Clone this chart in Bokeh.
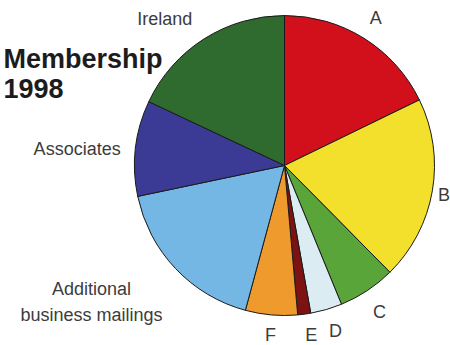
import math
from bokeh.plotting import figure
from bokeh.models import Range1d, ColumnDataSource
from bokeh.core.properties import value
from bokeh.embed import file_html
from bokeh.resources import INLINE

# ---- data ----
categories = ["A", "B", "C", "D", "E", "F",
              "Additional\nbusiness mailings", "Associates", "Ireland"]
shares = [17.8, 19.8, 6.2, 3.4, 1.4, 5.6, 17.5, 10.3, 18.0]
colors = ["#d2101c", "#f3e02c", "#5aa53a", "#dcecf3", "#7c1212",
          "#ee9a2c", "#74b6e4", "#3b3a94", "#2f6a2e"]
title_lines = ["Membership", "1998"]

# ---- style ----
W, H = 450, 345
cx, cy, R = 284, 180, 150
label_r = 172
label_align = ["center"] * 6 + ["center", "right", "right"]
label_dx = [0, -10, 0, 3, 4, 1, -68, 7, 0]
label_dy = [-2, 0, 3, 0, -1, -2, 18, 3, -1]

p = figure(width=W, height=H, output_backend="svg", toolbar_location=None,
           x_range=Range1d(0, W), y_range=Range1d(0, H),
           min_border=0, border_fill_color="white", outline_line_color=None)
p.axis.visible = False
p.grid.visible = False

total = sum(shares)
starts, ends, mids = [], [], []
a = math.pi / 2
for s in shares:
    e = a - s / total * 2 * math.pi
    starts.append(a)
    ends.append(e)
    mids.append((a + e) / 2)
    a = e

src = ColumnDataSource(dict(start=starts, end=ends, color=colors))
p.wedge(x=cx, y=cy, radius=R, start_angle="start", end_angle="end",
        direction="clock", fill_color="color", line_color="#1b1b1b",
        line_width=1, source=src)

lx = [cx + label_r * math.cos(m) for m in mids]
ly = [cy + label_r * math.sin(m) for m in mids]
lsrc = ColumnDataSource(dict(x=lx, y=ly, text=categories, align=label_align,
                             dx=label_dx, dy=label_dy))
p.text(x="x", y="y", text="text", x_offset="dx", y_offset="dy",
       text_align="align", text_baseline="middle", source=lsrc,
       text_font=value("Liberation Sans"), text_font_size="18px",
       text_color="#3c3c3c", text_line_height=1.3)

p.text(x=[3, 3], y=[H - 58, H - 88], text=title_lines,
       text_font=value("Liberation Sans"), text_font_size="27px",
       text_font_style="bold", text_color="#1c1c1c",
       text_align="left", text_baseline="alphabetic")

open("out.html", "w").write(file_html(p, INLINE))
